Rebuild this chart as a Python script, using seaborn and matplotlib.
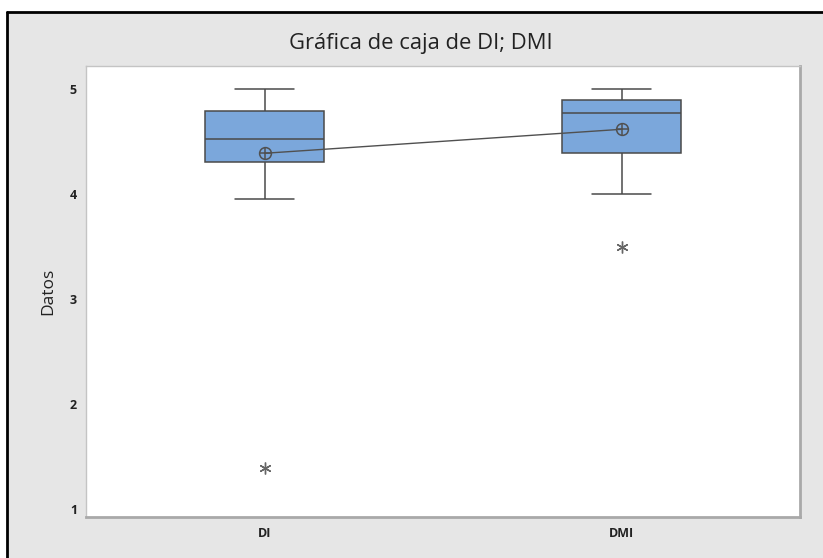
import pandas as pd
import matplotlib.pyplot as plt
import seaborn as sns
from matplotlib.patches import Rectangle
from matplotlib.lines import Line2D

# valores (n = 21 por variable)
di = [1.39, 3.95, 4.05, 4.15, 4.25, 4.31, 4.35, 4.40, 4.45, 4.50, 4.52,
      4.55, 4.60, 4.65, 4.75, 4.79, 4.80, 4.85, 4.90, 4.95, 5.00]
dmi = [3.50, 4.00, 4.10, 4.20, 4.30, 4.39, 4.45, 4.55, 4.65, 4.75, 4.77,
       4.80, 4.85, 4.85, 4.90, 4.90, 5.00, 5.00, 5.00, 5.00, 5.00]
categorias = ["DI", "DMI"]
yticks = [1, 2, 3, 4, 5]


def plot_boxes():
    sns.set_theme(style="white")
    plt.rcParams['font.family'] = ['Open Sans', 'DejaVu Sans']

    df = pd.DataFrame({
        "grupo": ["DI"] * len(di) + ["DMI"] * len(dmi),
        "Datos": di + dmi,
    })

    W, H = 823, 558
    fig = plt.figure(figsize=(W / 100, H / 100), dpi=100)
    fig.patch.set_facecolor("white")
    # marco gris estilo Minitab
    fig.patches.append(Rectangle((7 / W, 0), 1 - 7 / W, 1 - 12 / H, transform=fig.transFigure,
                                 facecolor="#e6e6e6", edgecolor="none", linewidth=0, zorder=-10))
    fig.lines.append(Line2D([7 / W, 1], [1 - 12 / H, 1 - 12 / H], transform=fig.transFigure,
                            color="black", lw=2, zorder=-5))
    fig.lines.append(Line2D([7 / W, 7 / W], [0, 1 - 12 / H], transform=fig.transFigure,
                            color="black", lw=2, zorder=-5))

    ax = fig.add_axes([86 / W, 1 - 517 / H, (800 - 86) / W, (517 - 66) / H])
    ax.set_facecolor("white")

    sns.boxplot(data=df, x="grupo", y="Datos", order=categorias, width=0.333,
                color="#7ba7db", linecolor="#4a4a4a", linewidth=1.1, whis=1.5,
                flierprops=dict(marker=(6, 2, 0), markersize=8.5, markeredgecolor="#666666",
                                markeredgewidth=1.0), ax=ax)
    for p in ax.patches:
        p.set_facecolor("#7ba7db")
        p.set_edgecolor("#4a4a4a")

    # medias conectadas
    sns.pointplot(data=df, x="grupo", y="Datos", order=categorias, estimator="mean",
                  errorbar=None, color="#505050", marker="o", markersize=8.5,
                  markerfacecolor="none", markeredgewidth=1.1, linewidth=1.0, ax=ax)
    sns.pointplot(data=df, x="grupo", y="Datos", order=categorias, estimator="mean",
                  errorbar=None, color="#505050", marker="+", markersize=8.5,
                  markeredgewidth=1.1, linestyle="none", ax=ax)

    ax.set_ylim(0.924, 5.22)
    ax.set_xlim(-0.5, 1.5)
    ax.set_yticks(yticks)
    ax.set_yticklabels([str(t) for t in yticks], fontweight="bold", fontsize=9)
    ax.set_xticks([0, 1])
    ax.set_xticklabels(categorias, fontweight="bold", fontsize=9)
    ax.tick_params(axis="both", which="both", length=4, width=0.8, color="#999999",
                   labelcolor="#222222")
    ax.tick_params(axis="y", pad=2.5)
    ax.tick_params(axis="x", pad=3)
    for side in ["left", "top"]:
        ax.spines[side].set_color("#c4c4c4")
        ax.spines[side].set_linewidth(1.0)
    for side in ["right", "bottom"]:
        ax.spines[side].set_color("#a9a9a9")
        ax.spines[side].set_linewidth(2.0)

    ax.set_xlabel("")
    ax.set_ylabel("Datos", fontsize=12.5, color="#222222", labelpad=10)
    fig.text(421 / W, 1 - 43 / H, "Gráfica de caja de DI; DMI", ha="center", va="center",
             fontsize=15.8, color="#222222")

    fig.savefig("out.png", dpi=100, facecolor=fig.get_facecolor())


if __name__ == "__main__":
    plot_boxes()
